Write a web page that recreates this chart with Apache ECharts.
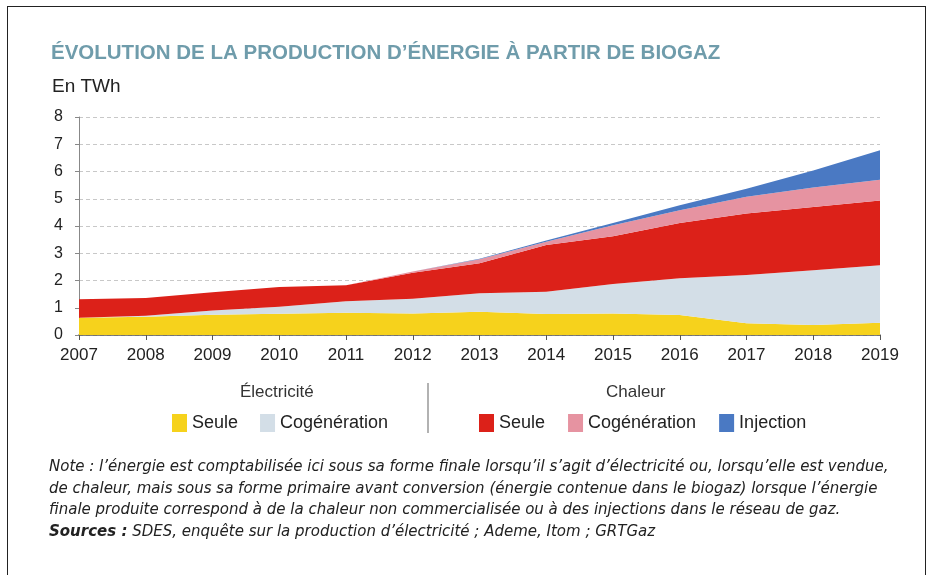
<!DOCTYPE html>
<html>
<head>
<meta charset="utf-8">
<title>Biogaz</title>
<script src="https://cdn.jsdelivr.net/npm/echarts@6/dist/echarts.min.js"></script>
<style>
  html, body { margin: 0; padding: 0; background: #fff; }
  #main { width: 934px; height: 575px; }
  .frame {
    position: absolute; left: 7px; top: 6px; width: 917px; height: 580px;
    border: 1.5px solid #222; border-bottom: none; pointer-events: none;
  }
</style>
</head>
<body>
<div id="main"></div>
<div class="frame"></div>
<script>
// années
const years = ["2007", "2008", "2009", "2010", "2011", "2012", "2013", "2014", "2015", "2016", "2017", "2018", "2019"];
// Électricité (TWh)
const elecSeule = [0.63, 0.67, 0.74, 0.78, 0.82, 0.79, 0.85, 0.77, 0.79, 0.73, 0.43, 0.37, 0.45];
const elecCogen = [0, 0.04, 0.16, 0.26, 0.42, 0.54, 0.68, 0.82, 1.08, 1.35, 1.77, 2.01, 2.11];
// Chaleur (TWh)
const chalSeule = [0.68, 0.65, 0.67, 0.72, 0.59, 0.95, 1.10, 1.71, 1.75, 2.03, 2.26, 2.32, 2.38];
const chalCogen = [0, 0, 0, 0, 0, 0.05, 0.15, 0.12, 0.41, 0.47, 0.61, 0.71, 0.76];
const injection = [0, 0, 0, 0, 0, 0, 0.02, 0.05, 0.08, 0.18, 0.30, 0.63, 1.08];

const FONT = "Liberation Sans";
const NOTE_FONT = "DejaVu Sans";
const labels = {
  "Électricité Seule": "Seule",
  "Électricité Cogénération": "Cogénération",
  "Chaleur Seule": "Seule",
  "Chaleur Cogénération": "Cogénération",
  "Chaleur Injection": "Injection",
};

const area = (name, data, color) => ({
  name: name,
  type: "line",
  stack: "total",
  data: data,
  showSymbol: false,
  smooth: false,
  lineStyle: { width: 0 },
  areaStyle: { color: color, opacity: 1 },
  itemStyle: { color: color },
});

const noteLines = [
  "Note : l’énergie est comptabilisée ici sous sa forme finale lorsqu’il s’agit d’électricité ou, lorsqu’elle est vendue,",
  "de chaleur, mais sous sa forme primaire avant conversion (énergie contenue dans le biogaz) lorsque l’énergie",
  "finale produite correspond à de la chaleur non commercialisée ou à des injections dans le réseau de gaz.",
  "{b|Sources :} SDES, enquête sur la production d’électricité ; Ademe, Itom ; GRTGaz",
];

const chart = echarts.init(document.getElementById("main"));
chart.setOption({
  animation: false,
  textStyle: { fontFamily: FONT },
  title: [
    {
      text: "ÉVOLUTION DE LA PRODUCTION D’ÉNERGIE À PARTIR DE BIOGAZ",
      left: 46, top: 38,
      textStyle: { fontFamily: FONT, fontSize: 20.5, fontWeight: "bold", color: "#6f9cab" },
    },
    {
      text: "En TWh",
      left: 47, top: 72,
      textStyle: { fontFamily: FONT, fontSize: 19, fontWeight: "normal", color: "#222" },
    },
  ],
  grid: { left: 79, right: 54, top: 117, bottom: 240 },
  xAxis: {
    type: "category",
    data: years,
    boundaryGap: false,
    axisLine: { lineStyle: { color: "#555", width: 1.5 } },
    axisTick: { length: 5, lineStyle: { color: "#555" } },
    axisLabel: { fontSize: 17, color: "#222", margin: 12, fontFamily: FONT },
  },
  yAxis: {
    type: "value",
    min: 0, max: 8, interval: 1,
    axisLine: { show: true, lineStyle: { color: "#888" } },
    axisTick: { show: true, length: 4, lineStyle: { color: "#888" } },
    axisLabel: { fontSize: 16, color: "#222", margin: 16, fontFamily: FONT },
    splitLine: { lineStyle: { color: "#c8c8c8", type: [4, 3] } },
  },
  legend: [
    {
      data: ["Électricité Seule", "Électricité Cogénération"],
      left: 167, top: 409,
      icon: "rect", itemWidth: 15, itemHeight: 18, itemGap: 22,
      formatter: (n) => labels[n],
      textStyle: { fontSize: 18, color: "#222", fontFamily: FONT },
    },
    {
      data: ["Chaleur Seule", "Chaleur Cogénération", "Chaleur Injection"],
      left: 474, top: 409,
      icon: "rect", itemWidth: 15, itemHeight: 18, itemGap: 23,
      formatter: (n) => labels[n],
      textStyle: { fontSize: 18, color: "#222", fontFamily: FONT },
    },
  ],
  graphic: [
    { type: "text", left: 240, top: 384, style: { text: "Électricité", font: "17px " + FONT, fill: "#333" } },
    { type: "text", left: 606, top: 384, style: { text: "Chaleur", font: "17px " + FONT, fill: "#333" } },
    { type: "line", shape: { x1: 428, y1: 383, x2: 428, y2: 433 }, style: { stroke: "#999", lineWidth: 1.5 } },
  ].concat(noteLines.map((t, i) => ({
    type: "text",
    left: 49,
    top: 460 + i * 21.5,
    style: {
      text: t,
      font: "italic 15px " + NOTE_FONT,
      fill: "#222",
      rich: { b: { fontWeight: "bold", fontStyle: "italic", fontSize: 15, fontFamily: NOTE_FONT, fill: "#222" } },
    },
  }))),
  series: [
    area("Électricité Seule", elecSeule, "#f6d21c"),
    area("Électricité Cogénération", elecCogen, "#d3dee7"),
    area("Chaleur Seule", chalSeule, "#dc2119"),
    area("Chaleur Cogénération", chalCogen, "#e693a1"),
    area("Chaleur Injection", injection, "#4a79c3"),
  ],
});
</script>
</body>
</html>
